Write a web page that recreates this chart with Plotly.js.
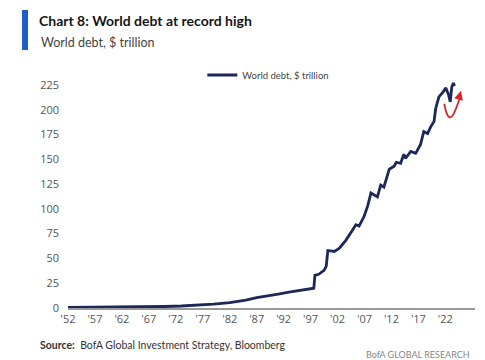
<!DOCTYPE html>
<html>
<head>
<meta charset="utf-8">
<script src="https://cdn.plot.ly/plotly-3.0.1.min.js"></script>
<style>html,body{margin:0;padding:0;background:#fff;}#chart{width:485px;height:360px;}</style>
</head>
<body>
<div id="chart"></div>
<script>
// Data (decimal year, $ trillion)
const years = [1952,1955,1958,1961,1964,1967,1970,1973,1976,1979,1982,1985,1987,1989,1991,1993,1995,1997,1997.6,1997.8,1998.5,1999.5,1999.9,2000.2,2001.4,2002.3,2003.5,2004.7,2005.4,2006.0,2006.9,2007.6,2008.2,2009.4,2010.0,2010.6,2011.6,2012.5,2012.9,2013.7,2014.3,2014.6,2015.6,2016.5,2017.4,2018.0,2018.7,2019.3,2019.9,2020.2,2020.8,2021.6,2022.1,2022.6,2022.9,2023.2,2023.5,2023.7];
const debt  = [0.5,0.6,0.7,0.8,1.0,1.2,1.5,2.0,2.8,4,5.5,8,10.5,12,14,16,17.5,19.5,20,33,34,38,42,58,57,60,68,78,84,82.7,92,103,116,112,124,122,140,143,147,146,155,151,158,156,165,178,176,183,188,201,213,218,222,215,208,223,227,224];
const tickYears = [1952,1957,1962,1967,1972,1977,1982,1987,1992,1997,2002,2007,2012,2017,2022];
const tickLabels = ["'52","'57","'62","'67","'72","'77","'82","'87","'92","'97","'02","'07","'12","'17","'22"];
const yTicks = [0,25,50,75,100,125,150,175,200,225];

const font = "Open Sans, Noto Sans, sans-serif";
const tfont = "Lato, Open Sans, sans-serif";

const trace = {
  x: years, y: debt, type: 'scatter', mode: 'lines',
  name: 'World debt, $ trillion',
  line: {color: '#1b2858', width: 2.8}
};

const layout = {
  width: 485, height: 360,
  margin: {l: 68, r: 10, t: 75, b: 52},
  paper_bgcolor: '#fff', plot_bgcolor: '#fff',
  font: {family: font, color: '#555'},
  title: {text: '<b>Chart 8: World debt at record high</b>', x: 39/485, xanchor: 'left', y: 1 - 21/360, yanchor: 'middle', font: {family: tfont, size: 14, color: '#151515'}},
  showlegend: true,
  legend: {x: 0.33, y: 1.0, xanchor: 'left', yanchor: 'middle', font: {family: tfont, size: 9.5, color: '#444'}, bgcolor: 'rgba(0,0,0,0)', itemwidth: 30},
  xaxis: {
    range: [1952, 2027.5], tickvals: tickYears, ticktext: tickLabels,
    showgrid: false, zeroline: false, showline: true, linecolor: '#999', linewidth: 1.5,
    ticks: '', tickfont: {size: 11, color: '#555'}, fixedrange: true
  },
  yaxis: {
    range: [0, 235], tickvals: yTicks, showgrid: false, zeroline: false, showline: false,
    ticks: '', ticklabelstandoff: 8, tickfont: {size: 11, color: '#555'}, fixedrange: true
  },
  shapes: [
    {type: 'rect', xref: 'paper', yref: 'paper', x0: (22-68)/407, x1: (28-68)/407, y0: (308-50)/233, y1: (308-10)/233, fillcolor: '#1d5fc6', line: {width: 0}},
    {type: 'path', xref: 'x', yref: 'y', path: 'M 2021.8,206 Q 2022.6,182 2023.9,200 T 2024.6,214', line: {color: '#d42a2a', width: 1.8}}
  ],
  annotations: [
    {xref: 'paper', yref: 'paper', x: (39-68)/407, y: (308-43)/233, xanchor: 'left', yanchor: 'middle', showarrow: false, text: 'World debt, $ trillion', font: {family: tfont, size: 12.5, color: '#444'}},
    {xref: 'paper', yref: 'paper', x: (38-68)/407, y: (308-345)/233, xanchor: 'left', yanchor: 'middle', showarrow: false, text: '<b>Source:</b>  BofA Global Investment Strategy, Bloomberg', font: {family: tfont, size: 10.5, color: '#333'}},
    {xref: 'paper', yref: 'paper', x: (472-68)/407, y: (308-354)/233, xanchor: 'right', yanchor: 'middle', showarrow: false, text: 'BofA GLOBAL RESEARCH', font: {family: tfont, size: 9, color: '#888'}},
    {xref: 'x', yref: 'y', axref: 'x', ayref: 'y', x: 2024.9, y: 219, ax: 2024.5, ay: 211, showarrow: true, arrowhead: 2, arrowsize: 1, arrowwidth: 1.8, arrowcolor: '#d42a2a', text: ''}
  ]
};

Plotly.newPlot('chart', [trace], layout, {displayModeBar: false, staticPlot: true});
</script>
</body>
</html>
